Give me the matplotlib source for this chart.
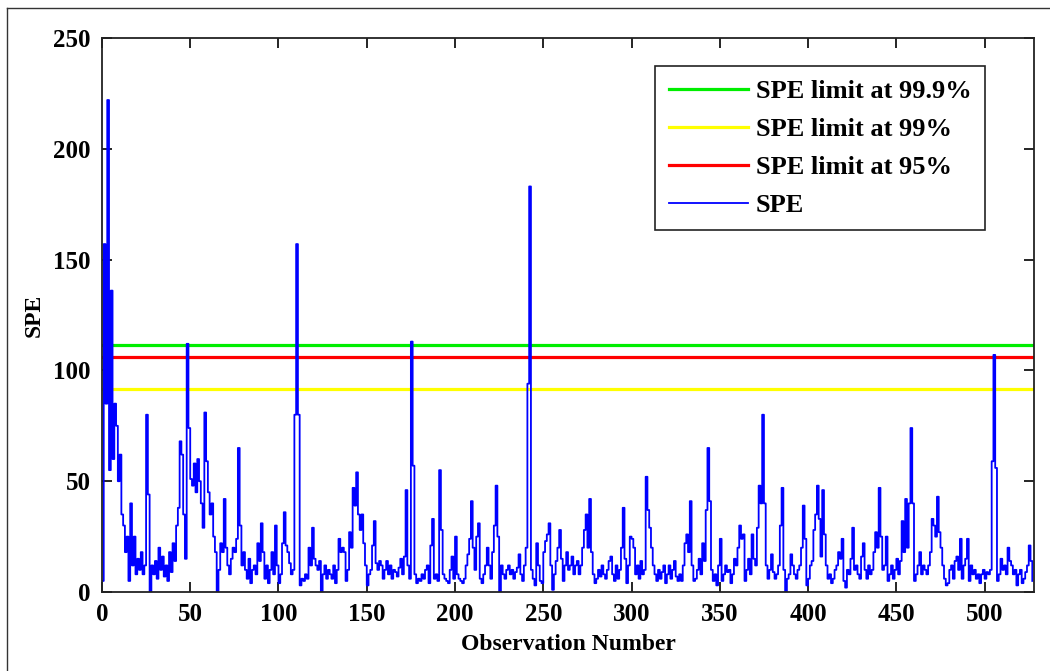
import numpy as np
import matplotlib
matplotlib.use('Agg')
import matplotlib.pyplot as plt
from matplotlib.lines import Line2D

plt.rcParams['font.family'] = ['Liberation Serif', 'DejaVu Serif']
plt.rcParams['font.weight'] = 'bold'

# SPE statistic per observation
spe = [
    5, 157, 85, 222, 55, 136, 60, 85, 75, 50,
    62, 35, 30, 18, 25, 5, 40, 12, 25, 8,
    15, 10, 18, 8, 12, 80, 44, 0, 12, 8,
    14, 6, 20, 10, 16, 7, 12, 5, 18, 9,
    22, 14, 30, 38, 68, 62, 35, 15, 112, 74,
    51, 48, 58, 45, 60, 50, 40, 29, 81, 59,
    45, 35, 40, 25, 18, 0, 10, 22, 18, 42,
    20, 12, 8, 15, 20, 18, 24, 65, 30, 12,
    18, 10, 6, 15, 4, 10, 12, 8, 22, 14,
    31, 18, 6, 12, 4, 10, 18, 8, 30, 12,
    4, 8, 22, 36, 21, 18, 13, 8, 10, 80,
    157, 80, 3, 6, 5, 8, 6, 20, 12, 29,
    15, 12, 10, 14, 0, 8, 12, 6, 10, 8,
    6, 12, 4, 10, 24, 18, 20, 18, 5, 10,
    27, 20, 47, 39, 54, 35, 28, 35, 22, 12,
    3, 8, 10, 21, 32, 13, 10, 14, 12, 6,
    10, 14, 8, 12, 6, 10, 9, 7, 11, 15,
    8, 16, 46, 12, 6, 113, 57, 8, 4, 6,
    5, 8, 6, 10, 12, 4, 21, 33, 6, 8,
    5, 55, 28, 8, 6, 5, 4, 10, 16, 6,
    25, 8, 6, 5, 4, 6, 12, 17, 24, 41,
    20, 10, 25, 31, 6, 4, 8, 12, 20, 12,
    6, 18, 30, 48, 25, 0, 12, 8, 6, 10,
    12, 8, 10, 6, 9, 11, 17, 8, 5, 12,
    20, 94, 183, 10, 6, 3, 22, 12, 5, 4,
    18, 23, 26, 31, 12, 1, 8, 14, 20, 28,
    15, 5, 12, 18, 10, 12, 16, 8, 12, 14,
    8, 12, 20, 28, 35, 20, 42, 18, 8, 4,
    6, 10, 7, 12, 8, 6, 10, 14, 16, 8,
    5, 12, 6, 10, 20, 38, 15, 4, 12, 25,
    24, 20, 8, 12, 6, 14, 8, 10, 52, 37,
    29, 20, 12, 8, 5, 10, 6, 9, 12, 4,
    8, 12, 6, 10, 14, 7, 5, 8, 5, 12,
    22, 26, 18, 41, 12, 5, 6, 10, 15, 8,
    22, 14, 37, 65, 41, 10, 5, 8, 3, 12,
    24, 5, 8, 12, 9, 10, 4, 8, 15, 12,
    20, 30, 24, 26, 5, 10, 15, 8, 26, 15,
    12, 29, 48, 40, 80, 40, 12, 6, 10, 17,
    9, 6, 8, 12, 30, 47, 10, 0, 6, 8,
    17, 12, 8, 6, 10, 12, 20, 39, 24, 3,
    6, 12, 14, 28, 35, 48, 33, 16, 46, 26,
    12, 6, 8, 4, 6, 10, 12, 18, 15, 24,
    5, 2, 10, 8, 15, 29, 10, 12, 8, 6,
    16, 22, 10, 6, 12, 8, 10, 18, 27, 20,
    47, 25, 10, 12, 25, 5, 8, 12, 6, 10,
    15, 8, 14, 32, 18, 42, 20, 40, 74, 40,
    5, 8, 12, 18, 8, 12, 10, 8, 12, 18,
    33, 30, 25, 43, 27, 20, 12, 6, 3, 4,
    10, 12, 6, 14, 16, 10, 24, 6, 12, 15,
    24, 5, 12, 8, 10, 6, 8, 4, 8, 10,
    6, 9, 8, 10, 59, 107, 56, 5, 8, 15,
    10, 12, 8, 20, 14, 12, 8, 10, 3, 8,
    10, 4, 6, 9, 12, 21, 14, 5,
]
obs = np.arange(len(spe))

limit_999 = 111.5
limit_99 = 91.5
limit_95 = 106.0

fig = plt.figure(figsize=(10.5, 6.71), dpi=100)
ax = fig.add_axes([0.0971, 0.1177, 0.8877, 0.8257])

h1 = ax.axhline(limit_999, color='#00ee00', lw=2.3, label='SPE limit at 99.9%')
h2 = ax.axhline(limit_99, color='#ffff00', lw=2.3, label='SPE limit at 99%')
h3 = ax.axhline(limit_95, color='#ff0000', lw=2.3, label='SPE limit at 95%')
h4, = ax.plot(obs, spe, color='#0000ff', lw=1.3, drawstyle='steps-post', label='SPE')

ax.set_xlim(0, 528)
ax.set_ylim(0, 250)
ax.set_xticks(np.arange(0, 501, 50))
ax.set_yticks(np.arange(0, 251, 50))
ax.tick_params(direction='in', length=7, width=1.2, top=True, right=True,
               labelsize=18, pad=8)
for lab in ax.get_xticklabels() + ax.get_yticklabels():
    lab.set_fontweight('bold')
for s in ax.spines.values():
    s.set_linewidth(1.3)
    s.set_color('#222222')

ax.set_xlabel('Observation Number', fontsize=17, fontweight='bold', labelpad=6)
ax.set_ylabel('SPE', fontsize=17, fontweight='bold', labelpad=6)

leg = ax.legend(handles=[h1, h2, h3, h4], loc='upper right',
                bbox_to_anchor=(0.947, 0.949), borderaxespad=0,
                fancybox=False, edgecolor='#222222', framealpha=1,
                prop={'size': 19, 'weight': 'bold'},
                handlelength=3.0, handletextpad=0.3, labelspacing=0.55,
                borderpad=0.5)
leg.get_frame().set_linewidth(1.2)

# outer frame around the figure (left and top edges)
fig.add_artist(Line2D([0.0071, 0.0071], [0, 0.988], color='#333333', lw=1.0,
                      transform=fig.transFigure))
fig.add_artist(Line2D([0.0071, 1.0], [0.988, 0.988], color='#333333', lw=1.0,
                      transform=fig.transFigure))

fig.savefig('out.png', dpi=100)
